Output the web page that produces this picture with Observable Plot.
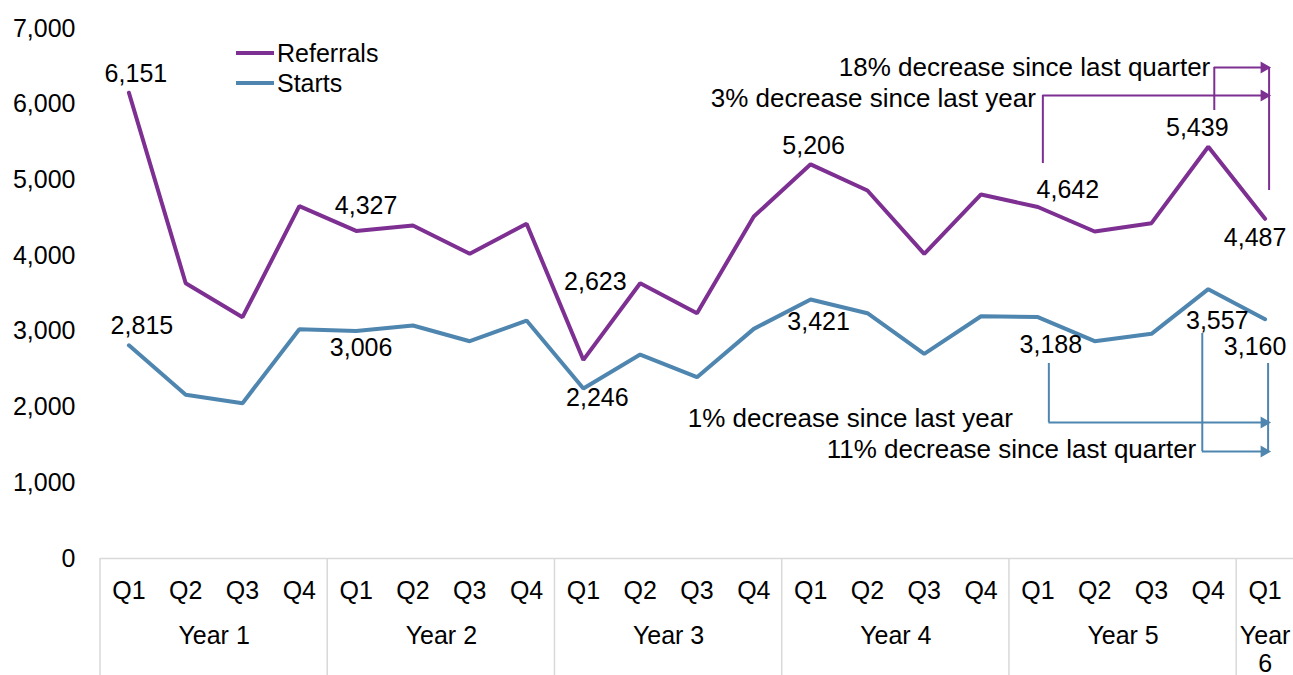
<!DOCTYPE html>
<html>
<head>
<meta charset="utf-8">
<script src="https://cdn.jsdelivr.net/npm/d3@7"></script>
<script src="https://cdn.jsdelivr.net/npm/@observablehq/plot@0.6"></script>
<style>
  html, body { margin: 0; padding: 0; background: #fff; }
  #wrap { position: relative; width: 1293px; height: 675px; font-family: "Liberation Sans", Arial, sans-serif; }
  #legend { position: absolute; left: 235px; top: 38px; font-size: 25px; line-height: 30px; color: #000; }
  #legend div { display: flex; align-items: center; height: 30px; }
  #legend svg { margin-right: 2px; }
</style>
</head>
<body>
<div id="wrap">
  <div id="chart"></div>
  <div id="legend"></div>
</div>
<script>
// ---- data ----
const quarters = ["Q1","Q2","Q3","Q4","Q1","Q2","Q3","Q4","Q1","Q2","Q3","Q4","Q1","Q2","Q3","Q4","Q1","Q2","Q3","Q4","Q1"];
const years = ["Year 1","Year 1","Year 1","Year 1","Year 2","Year 2","Year 2","Year 2","Year 3","Year 3","Year 3","Year 3","Year 4","Year 4","Year 4","Year 4","Year 5","Year 5","Year 5","Year 5","Year\n6"];
const referrals = [6151, 3636, 3187, 4653, 4327, 4398, 4024, 4421, 2623, 3636, 3240, 4517, 5206, 4860, 4024, 4808, 4642, 4319, 4429, 5439, 4487];
const starts = [2815, 2162, 2051, 3029, 3006, 3077, 2870, 3143, 2246, 2694, 2395, 3033, 3421, 3240, 2703, 3200, 3188, 2870, 2967, 3557, 3160];
const yTicks = [0, 1000, 2000, 3000, 4000, 5000, 6000, 7000];
const seriesNames = ["Referrals", "Starts"];
const seriesColors = ["#7d2f92", "#4f86b0"];

// labelled points (index into series)
const labelledReferrals = [0, 4, 8, 12, 16, 19, 20];
const labelledStarts = [0, 4, 8, 12, 16, 19, 20];

// annotation texts and levels (data units)
const refYearText = "3% decrease since last year";
const refQuarterText = "18% decrease since last quarter";
const startYearText = "1% decrease since last year";
const startQuarterText = "11% decrease since last quarter";
const refYearLevel = 6115, refQuarterLevel = 6485, refYearFoot = 5217, refQuarterFoot = 5917, refLastFoot = 4860;
const startYearLevel = 1796, startQuarterLevel = 1413, startYearFoot = 2576, startQuarterFoot = 2972, startLastFoot = 2576;

// ---- layout-only offsets for labels ----
const refOffsets = [[7,-19],[10,-25],[12,-78],[3,-18],[30,-17],[-11,-19],[-10,19]];
const startOffsets = [[13,-19],[5,17],[14,10],[8,23],[13,28],[9,32],[-10,28]];

const rows = quarters.map((q, i) => ({i, q, year: years[i], ref: referrals[i], start: starts[i]}));
const fmt = d3.format(",");

// year centers and boundaries derived from data
const yearGroups = d3.groups(rows, d => d.year).map(([year, g]) => ({year, center: d3.mean(g, d => d.i), first: d3.min(g, d => d.i)}));
const boundaries = yearGroups.map(g => g.first - 0.5);

const purple = seriesColors[0], blue = seriesColors[1];
const annFont = 26;

const labelMarks = [];
labelledReferrals.forEach((idx, k) => labelMarks.push(Plot.text([rows[idx]], {x: "i", y: "ref", text: d => fmt(d.ref), dx: refOffsets[k][0], dy: refOffsets[k][1], fill: "#000"})));
labelledStarts.forEach((idx, k) => labelMarks.push(Plot.text([rows[idx]], {x: "i", y: "start", text: d => fmt(d.start), dx: startOffsets[k][0], dy: startOffsets[k][1], fill: "#000"})));

const last = rows.length - 1, lastYear = last - 4, prevQ = last - 1;

const annot = [
  // purple brackets
  Plot.ruleX([lastYear], {x: d => d, y1: refYearFoot, y2: refYearLevel, stroke: purple, strokeWidth: 2, dx: 5}),
  Plot.ruleY([refYearLevel], {y: d => d, x1: lastYear, x2: last, stroke: purple, strokeWidth: 2, insetLeft: 5, insetRight: -4}),
  Plot.ruleX([prevQ], {x: d => d, y1: refQuarterFoot, y2: refQuarterLevel, stroke: purple, strokeWidth: 2, dx: 6}),
  Plot.ruleY([refQuarterLevel], {y: d => d, x1: prevQ, x2: last, stroke: purple, strokeWidth: 2, insetLeft: 6, insetRight: -4}),
  Plot.ruleX([last], {x: d => d, y1: refLastFoot, y2: refQuarterLevel, stroke: purple, strokeWidth: 2, dx: 4}),
  Plot.dot([refYearLevel, refQuarterLevel], {x: () => last, y: d => d, symbol: "triangle", rotate: 90, r: 4.5, fill: purple, stroke: "none", dx: -1}),
  Plot.text([refQuarterLevel], {x: () => prevQ, y: d => d, text: () => refQuarterText, textAnchor: "end", dx: 2, dy: 0, fill: "#000", fontSize: annFont}),
  Plot.text([refYearLevel], {x: () => lastYear, y: d => d, text: () => refYearText, textAnchor: "end", dx: -2, dy: 3, fill: "#000", fontSize: annFont}),
  // blue brackets
  Plot.ruleX([lastYear], {x: d => d, y1: startYearFoot, y2: startYearLevel, stroke: blue, strokeWidth: 2, dx: 11}),
  Plot.ruleY([startYearLevel], {y: d => d, x1: lastYear, x2: last, stroke: blue, strokeWidth: 2, insetLeft: 11, insetRight: -4}),
  Plot.ruleX([prevQ], {x: d => d, y1: startQuarterFoot, y2: startQuarterLevel, stroke: blue, strokeWidth: 2, dx: -6}),
  Plot.ruleY([startQuarterLevel], {y: d => d, x1: prevQ, x2: last, stroke: blue, strokeWidth: 2, insetLeft: -6, insetRight: -4}),
  Plot.ruleX([last], {x: d => d, y1: startLastFoot, y2: startQuarterLevel, stroke: blue, strokeWidth: 2, dx: 3}),
  Plot.dot([startYearLevel, startQuarterLevel], {x: () => last, y: d => d, symbol: "triangle", rotate: 90, r: 4.5, fill: blue, stroke: "none", dx: -1}),
  Plot.text([startYearLevel], {x: () => lastYear, y: d => d, text: () => startYearText, textAnchor: "end", dx: -25, dy: -4, fill: "#000", fontSize: annFont}),
  Plot.text([startQuarterLevel], {x: () => prevQ, y: d => d, text: () => startQuarterText, textAnchor: "end", dx: -12, dy: -2, fill: "#000", fontSize: annFont})
];

const plot = Plot.plot({
  width: 1293,
  height: 675,
  marginLeft: 100,
  marginRight: 0,
  marginTop: 28,
  marginBottom: 117,
  style: {fontFamily: "'Liberation Sans', Arial, sans-serif", fontSize: "25px", background: "#fff", color: "#000", overflow: "visible"},
  x: {type: "linear", domain: [-0.5, rows.length - 0.5], axis: null},
  y: {domain: [0, 7000], ticks: yTicks, tickSize: 0, tickPadding: 25, tickFormat: fmt, label: null},
  marks: [
    Plot.ruleY([0], {stroke: "#d9d9d9", strokeWidth: 1.5}),
    Plot.line(rows, {x: "i", y: "ref", stroke: purple, strokeWidth: 4, strokeLinejoin: "miter"}),
    Plot.line(rows, {x: "i", y: "start", stroke: blue, strokeWidth: 4, strokeLinejoin: "miter"}),
    ...labelMarks,
    ...annot,
    Plot.text(rows, {x: "i", y: () => 0, text: "q", dy: 32, fill: "#000"}),
    Plot.text(yearGroups, {x: "center", y: () => 0, text: "year", lineAnchor: "top", dy: 66, lineHeight: 1.1, fill: "#000"})
  ]
});

document.getElementById("chart").appendChild(plot);

// category separators below the baseline, placed via the plot's own scales
const xs = plot.scale("x"), ys = plot.scale("y");
const y0 = ys.apply(0);
d3.select(plot).append("g")
  .selectAll("line").data(boundaries).join("line")
  .attr("x1", d => xs.apply(d)).attr("x2", d => xs.apply(d))
  .attr("y1", y0).attr("y2", 675)
  .attr("stroke", "#d9d9d9").attr("stroke-width", 1.5);

// legend
const legend = d3.select("#legend");
seriesNames.forEach((name, k) => {
  const row = legend.append("div");
  const s = row.append("svg").attr("width", 40).attr("height", 10);
  s.append("line").attr("x1", 1).attr("x2", 39).attr("y1", 5).attr("y2", 5).attr("stroke", seriesColors[k]).attr("stroke-width", 4);
  row.append("span").text(name);
});
</script>
</body>
</html>
